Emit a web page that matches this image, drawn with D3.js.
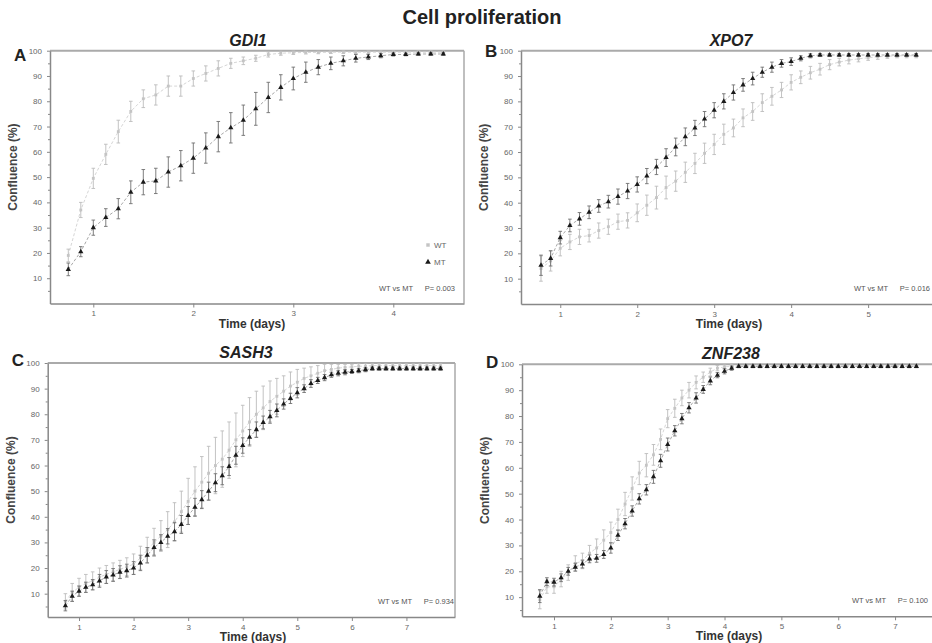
<!DOCTYPE html>
<html>
<head>
<meta charset="utf-8">
<script src="https://cdn.jsdelivr.net/npm/d3@7"></script>
<style>
body { margin: 0; background: #fff; }
svg { display: block; font-family: "Liberation Sans", Arial, sans-serif; }
</style>
</head>
<body>
<svg width="932" height="643"></svg>
<script>
// sampling times (days), one image every 3 hours
var timePoints = [0.75,0.875,1,1.125,1.25,1.375,1.5,1.625,1.75,1.875,2,2.125,2.25,2.375,2.5,2.625,2.75,2.875,3,3.125,3.25,3.375,3.5,3.625,3.75,3.875,4,4.125,4.25,4.375,4.5,4.625,4.75,4.875,5,5.125,5.25,5.375,5.5,5.625,5.75,5.875,6,6.125,6.25,6.375,6.5,6.625,6.75,6.875,7,7.125,7.25,7.375,7.5,7.625];
var yTicks = [10,20,30,40,50,60,70,80,90,100];
var yMinorTicks = [5,15,25,35,45,55,65,75,85,95];

// A - GDI1
var wtA = [19,37,49.5,59,68,76,81,82.5,86,86,89,91,93,95,96,97,98.5,99,99.2,99.3,99.3,99.4,99.4,99.4,99.4,99.4,99.4,99.4,99.4,99.4,99.4];
var wtAsd = [2.5,3,4,4,4.5,4,3.5,4,4,4,3,3,3,2,1.5,1.2,1,0.8,0.7,0.6,0.5,0.5,0.5,0.5,0.5,0.5,0.5,0.5,0.5,0.5,0.5];
var mtA = [13.5,20.5,30,34,37.5,44,48,48.5,52,54.5,57.5,61.5,66,69.5,72.5,77,81.5,85.5,89,91.5,93.5,95,96,97,97.5,98,98.5,98.5,98.7,98.7,98.7];
var mtAsd = [2.5,2,3,3.5,4,4.5,5,5,6,6,6,6,6,6,6,6.5,6,5,4.5,4,3,2.5,2,1.5,1,0.8,0.6,0.5,0.5,0.5,0.5];

// B - XPO7
var wtB = [14,17,22,24.5,26.5,27,29,30.5,32.5,33,36,39,42,46,48.5,52,55.5,59.5,63,67,69.5,73.5,76,79.5,82,84.5,87.5,89.5,91.3,92.7,94.5,95.5,96.3,96.8,97.2,97.6,97.8,98,98,98];
var wtBsd = [5,4,3,3,3,2.5,3,3,3,3,3.5,4,4.5,4.5,4,4,4,4,4,4,3.5,3.5,3.5,3.5,3.5,3,3,2.5,2.5,2.3,2,1.5,1.5,1.2,1,1,0.8,0.8,0.8,0.8];
var mtB = [15.3,18,26.2,31,33.6,36.2,38.7,40.4,42.4,44.6,47.2,50.5,54.1,57.8,62,66,69.5,73,76.5,80,83.5,86.5,89,91.5,93.5,95,95.7,97,98,98.3,98.3,98.3,98.3,98.3,98.3,98.3,98.3,98.3,98.3,98.3];
var mtBsd = [4,3,2.5,2.5,2.5,2.5,2.5,2.5,3,3,3,3,3,3.5,3.5,3.5,3,3,3,3,3,2.5,2.5,2,2,1.5,1.5,1,0.8,0.6,0.6,0.6,0.6,0.6,0.6,0.6,0.6,0.6,0.6,0.6];

// C - SASH3
var wtC = [7,10.5,12.5,14,15,16.5,17.5,18.5,19.5,20.5,21.5,24,27,30,32.5,35,38,42,46,50,53.5,57,60,62.5,66,70,73.5,77,80,82.5,85,87,89,91,92.5,94,95,96,97,97.5,98,98.3,98.5,98.7,98.8,99,99,99,99,99,99,99,99,99,99,99];
var wtCsd = [3,3.5,3.5,3.5,3.5,3.5,3.5,3.5,3.5,3.5,4,4.5,5,5.5,6,7,7.5,8,9,9.5,10,10.5,11,11,11,10.5,10,9.5,9,8.5,8,7,6,5.5,5,4,3.5,3,2.5,2,1.5,1.2,1,1,1,0.8,0.8,0.8,0.8,0.8,0.8,0.8,0.8,0.8,0.8,0.8];
var mtC = [5.3,9,11,12.5,13.5,15,16.5,17.3,18.4,19,20,22,25,28,30,32.4,34.2,37,40.5,43.7,46.7,50,53.3,56,59.6,64,67.8,71,74,76.8,79,81.5,84,86.2,88.4,90,92,93.2,94.3,95.4,96,96.4,96.7,97,97.4,97.8,97.8,97.8,97.8,97.8,97.8,97.8,97.8,97.8,97.8,97.8];
var mtCsd = [2,2,2,2,2,2.5,2.5,2.5,2.5,2.5,2.5,3,3,3,3,3,3.5,3.5,3.5,3.5,3.5,3.5,3.5,3.5,3.5,3.5,3,3,3,2.5,2.5,2.5,2,2,2,1.5,1.5,1.2,1.2,1,1,1,0.8,0.8,0.8,0.6,0.6,0.6,0.6,0.6,0.6,0.6,0.6,0.6,0.6,0.6];

// D - ZNF238
var wtD = [9,14,14,17,19.5,23,24,27,29,32,35,40,46,52,58,61,65,71,79,83,87,90,93,95,97,98.5,99,99.3,99.4,99.4,99.4,99.4,99.4,99.4,99.4,99.4,99.4,99.4,99.4,99.4,99.4,99.4,99.4,99.4,99.4,99.4,99.4,99.4,99.4,99.4,99.4,99.4,99.4,99.4];
var wtDsd = [3.5,2.5,2.5,3,3,3,3,3,3.5,4,4,4,4.5,4.5,4.5,4.5,4,4,3.5,3.5,3,3,2.5,2,1.5,1,0.8,0.6,0.5,0.5,0.5,0.5,0.5,0.5,0.5,0.5,0.5,0.5,0.5,0.5,0.5,0.5,0.5,0.5,0.5,0.5,0.5,0.5,0.5,0.5,0.5,0.5,0.5,0.5];
var mtD = [10.4,16,15.8,17.5,20,21.6,22.8,24.8,25,26.5,29,33.9,38.4,43.3,48,51.5,56.5,62.7,69,74.3,79,83.2,87,90.3,93.6,95.8,97.3,98.5,99.2,99.2,99.2,99.2,99.2,99.2,99.2,99.2,99.2,99.2,99.2,99.2,99.2,99.2,99.2,99.2,99.2,99.2,99.2,99.2,99.2,99.2,99.2,99.2,99.2,99.2];
var mtDsd = [2.5,1.5,1.5,1.5,1.5,1.5,1.5,1.5,1.5,1.5,2,2,2,2,2,2,2.5,2.5,2.5,2,2,2,2,1.5,1.5,1,1,0.8,0.5,0.5,0.5,0.5,0.5,0.5,0.5,0.5,0.5,0.5,0.5,0.5,0.5,0.5,0.5,0.5,0.5,0.5,0.5,0.5,0.5,0.5,0.5,0.5,0.5,0.5];

var panels = [
  {letter: "A", gene: "GDI1", p: "0.003", wt: wtA, wtSd: wtAsd, mt: mtA, mtSd: mtAsd,
   xTicks: [1,2,3,4], xDom: [0.567, 4.707], yMin: 0,
   left: 50, right: 464, top: 50.7, bottom: 303.5, border: true, legend: true,
   titleX: 248, labelX: 252, letterY: 61, noteX: 455},
  {letter: "B", gene: "XPO7", p: "0.016", wt: wtB, wtSd: wtBsd, mt: mtB, mtSd: mtBsd,
   xTicks: [1,2,3,4,5], xDom: [0.49, 5.83], yMin: 0,
   left: 521, right: 932, top: 50.7, bottom: 304, border: false,
   titleX: 731, labelX: 729, letterY: 57, noteX: 930},
  {letter: "C", gene: "SASH3", p: "0.934", wt: wtC, wtSd: wtCsd, mt: mtC, mtSd: mtCsd,
   xTicks: [1,2,3,4,5,6,7], xDom: [0.426, 7.89], yMin: 0.9,
   left: 47.7, right: 455, top: 363, bottom: 617, border: true,
   titleX: 246, labelX: 253, letterY: 366, noteX: 454},
  {letter: "D", gene: "ZNF238", p: "0.100", wt: wtD, wtSd: wtDsd, mt: mtD, mtSd: mtDsd,
   xTicks: [1,2,3,4,5,6,7], xDom: [0.437, 7.65], yMin: 2.6,
   left: 522, right: 932, top: 364.3, bottom: 616.3, border: false,
   titleX: 731, labelX: 729, letterY: 368, noteX: 928}
];

var svg = d3.select("svg");

svg.append("text")
  .attr("x", 482)
  .attr("y", 24)
  .attr("text-anchor", "middle")
  .style("font-size", "20px")
  .style("font-weight", "bold")
  .attr("fill", "#222")
  .text("Cell proliferation");

panels.forEach(function(p) {
  var x = d3.scaleLinear().domain(p.xDom).range([p.left, p.right]);
  var y = d3.scaleLinear().domain([p.yMin, 100]).range([p.bottom, p.top]);
  var g = svg.append("g");

  // frame: top line at 100 and right border
  g.append("line")
    .attr("x1", p.left).attr("x2", p.right)
    .attr("y1", y(100)).attr("y2", y(100))
    .attr("stroke", "#aaa").attr("stroke-width", 2);
  if (p.border) {
    g.append("line")
      .attr("x1", p.right).attr("x2", p.right)
      .attr("y1", y(100)).attr("y2", p.bottom)
      .attr("stroke", "#aaa").attr("stroke-width", 1.5);
  }

  // axes
  g.append("g")
    .attr("transform", "translate(" + p.left + ",0)")
    .call(d3.axisLeft(y).tickValues(yTicks).tickSize(3).tickPadding(5).tickSizeOuter(0));
  g.append("g")
    .attr("transform", "translate(" + p.left + ",0)")
    .call(d3.axisLeft(y).tickValues(yMinorTicks).tickSize(2).tickFormat("").tickSizeOuter(0))
    .select(".domain").remove();
  g.append("g")
    .attr("transform", "translate(0," + p.bottom + ")")
    .call(d3.axisBottom(x).tickValues(p.xTicks).tickFormat(d3.format("d"))
      .tickSize(4).tickPadding(3).tickSizeOuter(0));
  g.selectAll(".domain").attr("stroke", "#888").attr("stroke-width", 1.5);
  g.selectAll(".tick line").attr("stroke", "#888");
  g.selectAll(".tick text").attr("fill", "#666").style("font-size", "8px");

  // axis titles
  g.append("text")
    .attr("transform", "rotate(-90)")
    .attr("x", -(p.top + p.bottom) / 2 + 10)
    .attr("y", p.left - 33)
    .attr("text-anchor", "middle")
    .style("font-size", "12px").style("font-weight", "bold")
    .attr("fill", "#444")
    .text("Confluence  (%)");
  g.append("text")
    .attr("x", p.labelX)
    .attr("y", p.bottom + 24)
    .attr("text-anchor", "middle")
    .style("font-size", "12px").style("font-weight", "bold")
    .attr("fill", "#333")
    .text("Time (days)");

  // gene title + panel letter
  g.append("text")
    .attr("x", p.titleX)
    .attr("y", p.top - 5)
    .attr("text-anchor", "middle")
    .style("font-size", "16px").style("font-weight", "bold").style("font-style", "italic")
    .attr("fill", "#222")
    .text(p.gene);
  g.append("text")
    .attr("x", p.left - 36)
    .attr("y", p.letterY)
    .style("font-size", "17px").style("font-weight", "bold")
    .attr("fill", "#222")
    .text(p.letter);

  // p-value note
  g.append("text")
    .attr("x", p.noteX)
    .attr("y", p.bottom - 13)
    .attr("text-anchor", "end")
    .style("font-size", "7.5px")
    .attr("fill", "#555")
    .text("P= " + p.p);
  g.append("text")
    .attr("x", p.noteX - 42)
    .attr("y", p.bottom - 13)
    .attr("text-anchor", "end")
    .style("font-size", "7.5px")
    .attr("fill", "#555")
    .text("WT vs MT");

  var series = [
    {vals: p.wt, sd: p.wtSd, bar: "#bcbcbc", line: "#d6d6d6", mark: d3.symbolSquare, size: 8, fill: "#c4c4c4"},
    {vals: p.mt, sd: p.mtSd, bar: "#707070", line: "#a8a8a8", mark: d3.symbolTriangle, size: 12, fill: "#1a1a1a"}
  ];

  series.forEach(function(s) {
    var pts = s.vals.map(function(v, i) { return {t: timePoints[i], v: v, sd: s.sd[i]}; });

    g.append("path")
      .datum(pts)
      .attr("fill", "none")
      .attr("stroke", s.line)
      .attr("stroke-width", 1)
      .attr("stroke-dasharray", "3,2")
      .attr("d", d3.line().x(d => x(d.t)).y(d => y(d.v)));

    var eb = g.append("g").selectAll("g").data(pts).enter().append("g")
      .attr("stroke", s.bar).attr("stroke-width", 0.9);
    eb.append("line")
      .attr("x1", d => x(d.t)).attr("x2", d => x(d.t))
      .attr("y1", d => y(Math.min(100, d.v + d.sd))).attr("y2", d => y(d.v - d.sd));
    eb.append("line")
      .attr("x1", d => x(d.t) - 1.8).attr("x2", d => x(d.t) + 1.8)
      .attr("y1", d => y(Math.min(100, d.v + d.sd))).attr("y2", d => y(Math.min(100, d.v + d.sd)));
    eb.append("line")
      .attr("x1", d => x(d.t) - 1.8).attr("x2", d => x(d.t) + 1.8)
      .attr("y1", d => y(d.v - d.sd)).attr("y2", d => y(d.v - d.sd));

    g.append("g").selectAll("path").data(pts).enter().append("path")
      .attr("transform", d => "translate(" + x(d.t) + "," + y(d.v) + ")")
      .attr("d", d3.symbol().type(s.mark).size(s.size))
      .attr("fill", s.fill);
  });

  // legend (panel A only)
  if (p.legend) {
    var lg = g.append("g").attr("transform", "translate(428,245)");
    lg.append("path").attr("d", d3.symbol().type(d3.symbolSquare).size(12)).attr("fill", "#c4c4c4");
    lg.append("text").attr("x", 6).attr("y", 3).style("font-size", "8px").attr("fill", "#666").text("WT");
    lg.append("path").attr("transform", "translate(0,17)").attr("d", d3.symbol().type(d3.symbolTriangle).size(14)).attr("fill", "#1a1a1a");
    lg.append("text").attr("x", 6).attr("y", 20).style("font-size", "8px").attr("fill", "#666").text("MT");
  }
});
</script>
</body>
</html>
